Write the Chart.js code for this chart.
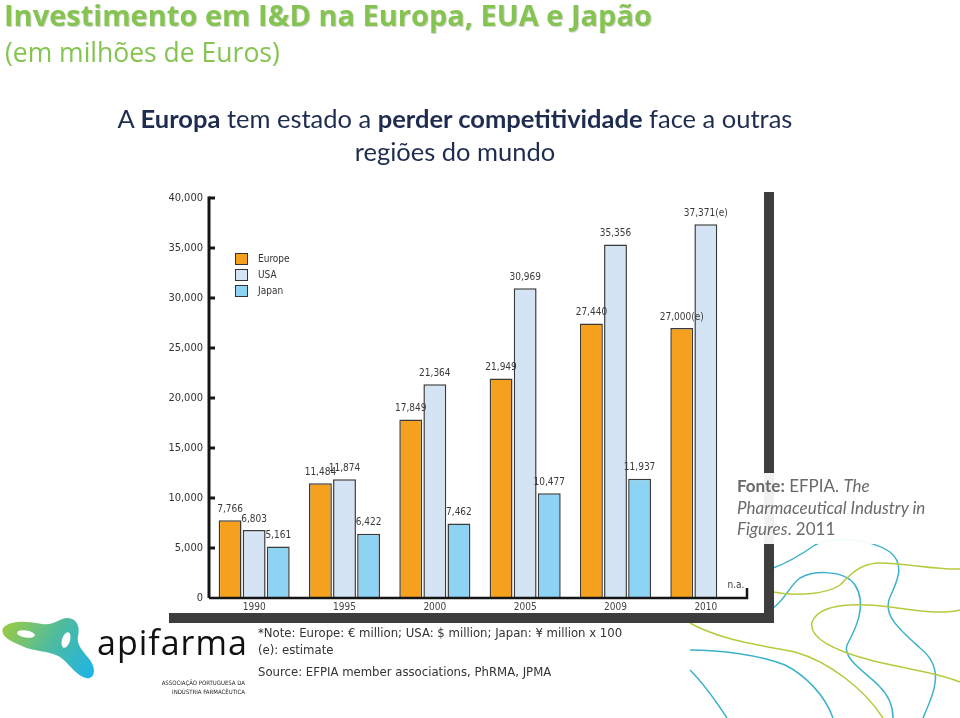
<!DOCTYPE html>
<html>
<head>
<meta charset="utf-8">
<script src="https://cdn.jsdelivr.net/npm/chart.js@4/dist/chart.umd.min.js"></script>
<style>
  html, body { margin: 0; padding: 0; background: #fff; }
  #wrap { position: relative; width: 960px; height: 718px; overflow: hidden; background: #fff; }
  #c { position: absolute; left: 0; top: 0; }
  .t { position: absolute; white-space: nowrap; }
  #title { left: 4px; top: -5px; font: bold 29px "Open Sans", Lato, sans-serif; color: #86C452; text-shadow: 1px 1px 1px rgba(0,0,0,0.18); }
  #sub { left: 5px; top: 34px; font: 26.5px "Open Sans", Lato, sans-serif; color: #86C452; }
  #lead { left: 0; width: 910px; top: 102px; text-align: center; font: 25.5px Lato, "Open Sans", sans-serif; color: #1E2C50; line-height: 33px; white-space: normal; }
  #lead b { font-weight: bold; }
  #fonte { left: 735px; top: 473px; padding: 2px 2px 4px 2px; font: 17px Lato, "Open Sans", sans-serif; color: #6a6a6a; line-height: 21.5px; background: rgba(255,255,255,0.93); }
  .note { left: 258px; font: 13px "DejaVu Sans Condensed", "Liberation Sans Narrow", sans-serif; color: #333; }
  #logo { left: 97px; top: 625px; font: 34px "Open Sans", Lato, sans-serif; line-height: 34px; color: #111; letter-spacing: 1px; }
  .assoc { font: 6px "Liberation Sans Narrow", "DejaVu Sans Condensed", sans-serif; color: #222; right: 715px; text-align: right; }
</style>
</head>
<body>
<div id="wrap">
  <canvas id="c" width="960" height="718"></canvas>
  <div class="t" id="title">Investimento em I&amp;D na Europa, EUA e Japão</div>
  <div class="t" id="sub">(em milhões de Euros)</div>
  <div class="t" id="lead">A <b>Europa</b> tem estado a <b>perder competitividade</b> face a outras<br>regiões do mundo</div>
  <div class="t" id="fonte"><b>Fonte:</b> EFPIA. <i>The</i><br><i>Pharmaceutical Industry in</i><br><i>Figures</i>. 2011</div>
  <div class="t note" style="top:625px">*Note: Europe: € million; USA: $ million; Japan: ¥ million x 100</div>
  <div class="t note" style="top:642px">(e): estimate</div>
  <div class="t note" style="top:664px">Source: EFPIA member associations, PhRMA, JPMA</div>
  <div class="t" id="logo">apifarma</div>
  <div class="t assoc" style="top:679px">ASSOCIAÇÃO PORTUGUESA DA</div>
  <div class="t assoc" style="top:688px">INDÚSTRIA FARMACÊUTICA</div>
</div>
<script>
// ---- data ----
const years = ["1990", "1995", "2000", "2005", "2009", "2010"];
const europe = [7766, 11484, 17849, 21949, 27440, 27000];
const usa = [6803, 11874, 21364, 30969, 35356, 37371];
const japan = [5161, 6422, 7462, 10477, 11937, null];
const estimate = [false, false, false, false, false, true];
const yTicks = [0, 5000, 10000, 15000, 20000, 25000, 30000, 35000, 40000];
const seriesNames = ["Europe", "USA", "Japan"];

const fmt = v => v.toString().replace(/\B(?=(\d{3})+(?!\d))/g, ",");
const colors = ["#F5A11E", "#D4E4F4", "#8DD3F4"];
const LABEL_FONT = '10px "DejaVu Sans Condensed", "Liberation Sans Narrow", sans-serif';

const deco = {
  id: 'deco',
  beforeDraw(chart) {
    const ctx = chart.ctx;
    ctx.save();
    ctx.fillStyle = '#fff';
    ctx.fillRect(0, 0, 960, 718);
    // wavy decorative lines
    ctx.lineWidth = 1.5;
    const T = '#3DB2C8', G = '#B9C93E';
    const curves = [
      [T, [[773,568],[790,562,805,552,815,545],[830,536,870,538,890,552],[905,564,898,580,890,597],[882,615,900,630,920,648],[945,668,935,690,923,718]]],
      [T, [[773,608],[785,600,790,585,800,578],[815,570,845,570,855,585],[868,605,855,630,847,645],[842,660,870,675,880,687],[890,697,893,708,893,718]]],
      [T, [[690,650],[720,650,760,655,785,665],[805,675,825,695,833,718]]],
      [T, [[690,670],[700,680,712,695,727,718]]],
      [G, [[773,592],[795,596,825,595,840,585],[850,575,858,565,877,563],[900,562,935,570,960,569]]],
      [G, [[960,610],[940,615,915,610,890,607],[860,603,820,602,812,622],[808,640,840,652,870,660],[900,668,935,672,960,682]]],
      [G, [[690,623],[720,640,760,645,795,652],[830,662,865,690,883,718]]]
    ];
    curves.forEach(([col, pts]) => {
      ctx.strokeStyle = col;
      ctx.beginPath();
      ctx.moveTo(pts[0][0], pts[0][1]);
      for (let i = 1; i < pts.length; i++) ctx.bezierCurveTo(...pts[i]);
      ctx.stroke();
    });
    // logo blob
    const g = ctx.createLinearGradient(0, 620, 95, 680);
    g.addColorStop(0, '#A4CD39');
    g.addColorStop(0.5, '#4DBBA0');
    g.addColorStop(1, '#1BB3EA');
    ctx.fillStyle = g;
    ctx.beginPath();
    ctx.moveTo(3, 628);
    ctx.bezierCurveTo(12, 619, 30, 622, 42, 624);
    ctx.bezierCurveTo(55, 626, 60, 617, 68, 618);
    ctx.bezierCurveTo(78, 619, 80, 628, 78, 636);
    ctx.bezierCurveTo(76, 645, 84, 652, 90, 660);
    ctx.bezierCurveTo(97, 670, 94, 680, 86, 678);
    ctx.bezierCurveTo(76, 676, 70, 664, 60, 657);
    ctx.bezierCurveTo(48, 650, 34, 652, 22, 646);
    ctx.bezierCurveTo(10, 641, 0, 636, 3, 628);
    ctx.fill();
    ctx.fillStyle = '#fff';
    ctx.beginPath();
    ctx.ellipse(26, 634, 9, 3.5, 0.15, 0, Math.PI * 2);
    ctx.fill();
    ctx.beginPath();
    ctx.ellipse(66, 640, 4, 8, 0.3, 0, Math.PI * 2);
    ctx.fill();
    // dark frame of the embedded figure
    ctx.fillStyle = '#3D3D3D';
    ctx.fillRect(169, 613, 605, 10);
    ctx.fillRect(764, 192, 10, 431);
    ctx.restore();
  },
  afterDatasetsDraw(chart) {
    const ctx = chart.ctx;
    const x = chart.scales.x, y = chart.scales.y;
    const area = chart.chartArea;
    ctx.save();
    // axes
    ctx.strokeStyle = '#151515';
    ctx.lineWidth = 3;
    ctx.beginPath();
    ctx.moveTo(area.left, y.getPixelForValue(40000) - 1.5);
    ctx.lineTo(area.left, y.getPixelForValue(0));
    ctx.stroke();
    yTicks.forEach(v => {
      if (v === 0) return;
      const py = y.getPixelForValue(v);
      ctx.beginPath();
      ctx.moveTo(area.left, py);
      ctx.lineTo(area.left + 6, py);
      ctx.stroke();
    });
    ctx.lineWidth = 2.5;
    const yb = y.getPixelForValue(0);
    ctx.beginPath();
    ctx.moveTo(area.left, yb);
    ctx.lineTo(area.right - 4, yb);
    ctx.lineTo(area.right - 4, yb - 10);
    ctx.stroke();
    // value labels
    ctx.font = LABEL_FONT;
    ctx.fillStyle = '#3a3a3a';
    ctx.textAlign = 'center';
    ctx.textBaseline = 'bottom';
    chart.data.datasets.forEach((ds, di) => {
      const meta = chart.getDatasetMeta(di);
      meta.data.forEach((bar, i) => {
        const v = ds.data[i];
        if (v === null) {
          ctx.fillText('n.a.', bar.x + 6, yb - 8);
          return;
        }
        let txt = fmt(v) + (estimate[i] ? '(e)' : '');
        ctx.fillText(txt, bar.x, bar.y - 6);
      });
    });
    // legend
    ctx.font = '10px "DejaVu Sans Condensed", "Liberation Sans Narrow", sans-serif';
    ctx.textAlign = 'left';
    ctx.textBaseline = 'middle';
    chart.data.datasets.forEach((ds, di) => {
      const ly = 259 + di * 16;
      ctx.fillStyle = ds.backgroundColor;
      ctx.fillRect(235, ly - 6, 13, 12);
      ctx.strokeStyle = '#333';
      ctx.lineWidth = 1;
      ctx.strokeRect(235.5, ly - 5.5, 12, 11);
      ctx.fillStyle = '#333';
      ctx.fillText(ds.label, 258, ly);
    });
    ctx.restore();
  }
};

new Chart(document.getElementById('c'), {
  type: 'bar',
  data: {
    labels: years,
    datasets: [
      { label: seriesNames[0], data: europe, backgroundColor: colors[0] },
      { label: seriesNames[1], data: usa, backgroundColor: colors[1] },
      { label: seriesNames[2], data: japan, backgroundColor: colors[2] }
    ].map(d => Object.assign(d, { borderColor: '#3a3a3a', borderWidth: 1.5, categoryPercentage: 0.8, barPercentage: 0.95 }))
  },
  options: {
    responsive: false,
    animation: false,
    events: [],
    layout: { padding: { left: 159, right: 209, top: 198, bottom: 100 } },
    plugins: { legend: { display: false }, tooltip: { enabled: false }, title: { display: false } },
    scales: {
      x: {
        grid: { display: false, drawTicks: false },
        border: { display: false },
        ticks: { color: '#444', font: { family: '"DejaVu Sans Condensed", "Liberation Sans Narrow", sans-serif', size: 10 }, padding: 3 },
        afterFit: s => { s.height = 20; }
      },
      y: {
        min: 0, max: 40000,
        grid: { display: false, drawTicks: false },
        border: { display: false },
        ticks: {
          stepSize: 5000,
          color: '#333',
          padding: 6,
          font: { family: '"DejaVu Sans Condensed", "Liberation Sans Narrow", sans-serif', size: 11 },
          callback: v => fmt(v)
        },
        afterFit: s => { s.width = 50; }
      }
    }
  },
  plugins: [deco]
});
</script>
</body>
</html>
